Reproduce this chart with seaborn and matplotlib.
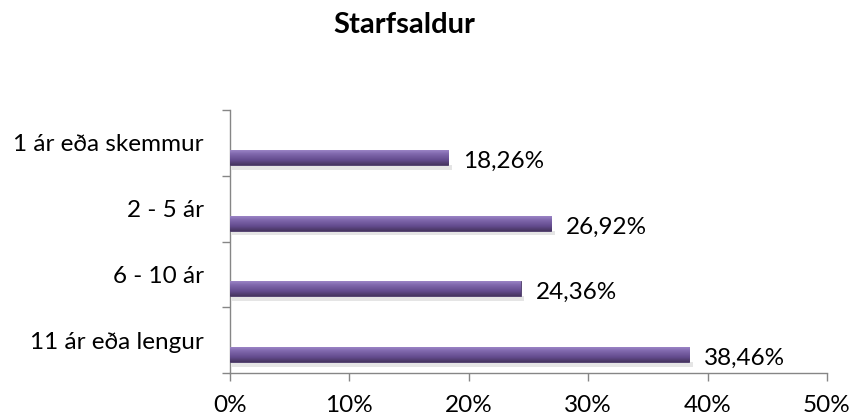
import numpy as np
import pandas as pd
import matplotlib
matplotlib.use("Agg")
import matplotlib.pyplot as plt
import seaborn as sns
from matplotlib.colors import LinearSegmentedColormap
from matplotlib.ticker import FixedLocator

categories = ["1 ár eða skemmur", "2 - 5 ár", "6 - 10 ár", "11 ár eða lengur"]
values = [18.26, 26.92, 24.36, 38.46]
value_labels = ["18,26%", "26,92%", "24,36%", "38,46%"]
x_ticks = [0, 10, 20, 30, 40, 50]
x_tick_labels = ["0%", "10%", "20%", "30%", "40%", "50%"]
title = "Starfsaldur"

sns.set_style("white")
plt.rcParams["font.family"] = ["Lato", "DejaVu Sans"]

df = pd.DataFrame({"cat": categories, "val": values})

fig = plt.figure(figsize=(8.51, 4.17), dpi=100)
W, H = 851, 417
ax = fig.add_axes([230 / W, (H - 373) / H, (827 - 230) / W, (373 - 110) / H])

sns.barplot(data=df, x="val", y="cat", orient="h", color="#7b62a6",
            width=0.23, ax=ax, saturation=1, zorder=3)

cmap = LinearSegmentedColormap.from_list(
    "bev", [(0.0, "#a18bcb"), (0.3, "#8068ad"), (0.7, "#634b8d"), (1.0, "#46355f")])
grad = np.linspace(0, 1, 64).reshape(-1, 1)
offset = 0.22
FS = 17.5
for p, lab in zip(ax.patches, value_labels):
    p.set_y(p.get_y() + offset)
    p.set_edgecolor("#4a3866")
    p.set_linewidth(0.6)
    x0, y0, w, h = p.get_x(), p.get_y(), p.get_width(), p.get_height()
    im = ax.imshow(grad, cmap=cmap, aspect="auto",
                   extent=(x0, x0 + w, y0 + h, y0), zorder=3.5, interpolation="bilinear")
    im.set_clip_path(p)
    ax.fill_between([x0 + 0.2, x0 + w + 0.3], y0 + h, y0 + h + 0.07,
                    color="#d4d4d4", alpha=0.6, zorder=2, linewidth=0)
    ax.text(x0 + w + 1.25, y0 + h / 2 + 0.06, lab, va="center", ha="left",
            fontsize=FS, color="#000000")

ax.set_xlim(0, 50)
ax.set_ylim(3.5, -0.5)
ax.xaxis.set_major_locator(FixedLocator(x_ticks))
ax.set_xticklabels(x_tick_labels)
ax.set_yticks(range(len(categories)))
ax.set_yticklabels(categories)
ax.set_yticks([-0.5, 0.5, 1.5, 2.5, 3.5], minor=True)

ax.tick_params(axis="y", which="major", left=True, length=0, pad=19, labelsize=FS,
               labelcolor="#000000")
ax.tick_params(axis="y", which="minor", left=True, length=6, width=1, color="#868686",
               direction="out")
ax.tick_params(axis="x", which="major", bottom=True, length=6, width=1, color="#868686",
               direction="out", pad=10, labelsize=FS, labelcolor="#000000")

for s in ["top", "right"]:
    ax.spines[s].set_visible(False)
for s in ["left", "bottom"]:
    ax.spines[s].set_color("#868686")
    ax.spines[s].set_linewidth(1)
ax.set_xlabel("")
ax.set_ylabel("")
ax.grid(False)

fig.text(404 / W, 1 - 33 / H, title, ha="center", va="baseline",
         fontsize=21, fontweight="bold", color="#000000")

fig.savefig("out.png", dpi=100)
